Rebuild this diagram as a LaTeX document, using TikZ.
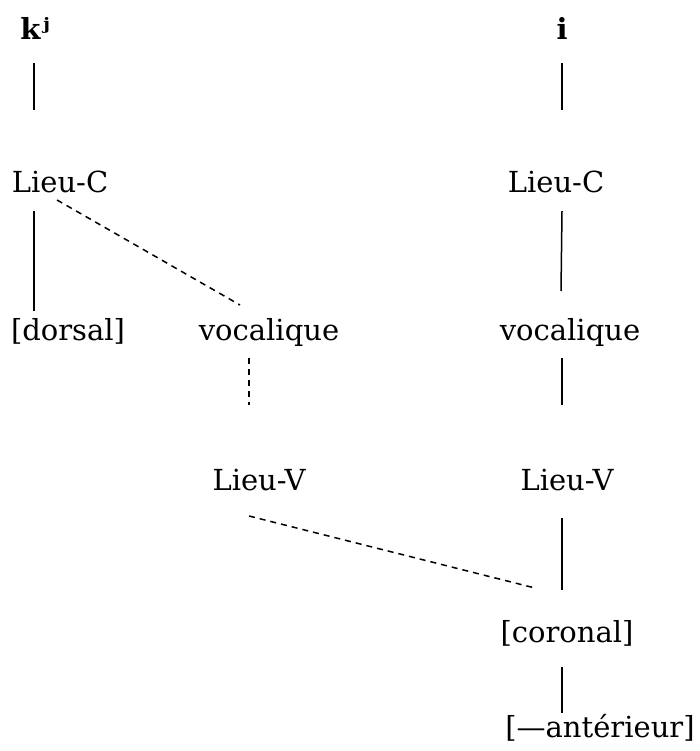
\documentclass[tikz,border=0pt]{standalone}
\usepackage{fontspec}
\setmainfont{DejaVu Serif}
\begin{document}
\begin{tikzpicture}[x=1pt,y=-1pt,
  lab/.style={anchor=base,inner sep=0pt,font=\fontsize{29}{34}\selectfont},
  solidline/.style={line width=1.5pt},
  dashline/.style={line width=1.5pt,dash pattern=on 6pt off 5pt}]
\useasboundingbox (0,0) rectangle (699,751);
% nodes
\node[lab] (kj) at (35,40) {\textbf{kʲ}};
\node[lab] (i) at (562,40) {\textbf{i}};
\node[lab] (lcl) at (60,193) {Lieu-C};
\node[lab] (lcr) at (556,193) {Lieu-C};
\node[lab] (dors) at (68,340) {[dorsal]};
\node[lab] (vocl) at (269,340) {vocalique};
\node[lab] (vocr) at (570,340) {vocalique};
\node[lab] (lvl) at (259,490) {Lieu-V};
\node[lab] (lvr) at (567,490) {Lieu-V};
\node[lab] (cor) at (567,642) {[coronal]};
\node[lab] (ant) at (600,737) {[—antérieur]};
% coordinates for connector ends
\coordinate (a1) at (34,63);  \coordinate (a2) at (34,110);
\coordinate (b1) at (562,63); \coordinate (b2) at (562,110);
\coordinate (c1) at (34,211); \coordinate (c2) at (34,311);
\coordinate (d1) at (57,200); \coordinate (d2) at (240,305);
\coordinate (e1) at (562,211); \coordinate (e2) at (561,291);
\coordinate (f1) at (249,358); \coordinate (f2) at (249,405);
\coordinate (g1) at (562,358); \coordinate (g2) at (562,405);
\coordinate (h1) at (249,516); \coordinate (h2) at (535,588);
\coordinate (j1) at (562,518); \coordinate (j2) at (562,590);
\coordinate (k1) at (562,667); \coordinate (k2) at (562,713);
% connectors
\draw[solidline] (a1) -- (a2);
\draw[solidline] (b1) -- (b2);
\draw[solidline] (c1) -- (c2);
\draw[dashline] (d1) -- (d2);
\draw[solidline] (e1) -- (e2);
\draw[dashline] (f1) -- (f2);
\draw[solidline] (g1) -- (g2);
\draw[dashline] (h1) -- (h2);
\draw[solidline] (j1) -- (j2);
\draw[solidline] (k1) -- (k2);
\end{tikzpicture}
\end{document}
